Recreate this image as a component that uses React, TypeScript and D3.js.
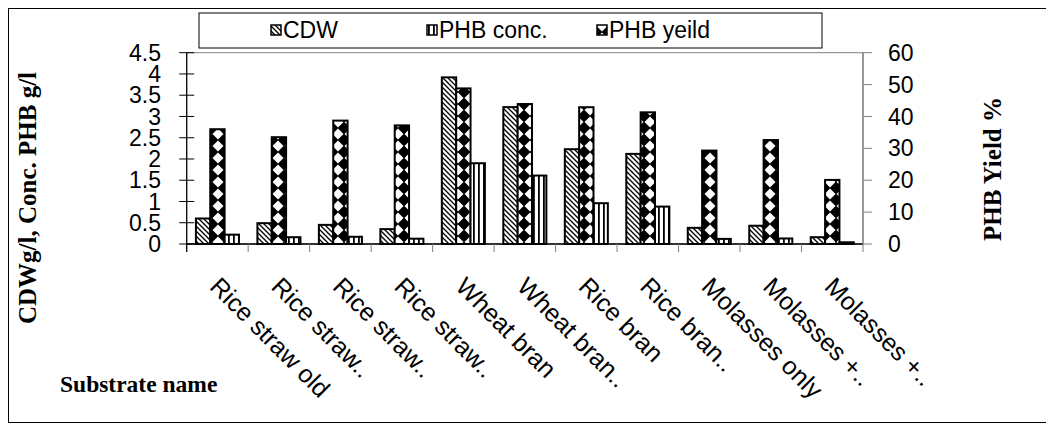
import React from "react";
import * as d3 from "d3";

const categories = [
  "Rice straw old",
  "Rice straw..",
  "Rice straw..",
  "Rice straw..",
  "Wheat bran",
  "Wheat bran..",
  "Rice bran",
  "Rice bran..",
  "Molasses only",
  "Molasses +..",
  "Molasses +..",
];
const cdw = [0.6, 0.49, 0.45, 0.35, 3.92, 3.22, 2.23, 2.12, 0.38, 0.43, 0.16];
const phbConc = [0.22, 0.16, 0.17, 0.125, 1.9, 1.61, 0.96, 0.88, 0.12, 0.13, 0.04];
const phbYield = [36.0, 33.5, 38.7, 37.2, 48.8, 43.9, 42.9, 41.3, 29.3, 32.6, 20.1];
const leftTicks = [0, 0.5, 1, 1.5, 2, 2.5, 3, 3.5, 4, 4.5];
const rightTicks = [0, 10, 20, 30, 40, 50, 60];
const legendItems = [
  { key: "cdw", label: "CDW", pat: "url(#cdwPat)" },
  { key: "conc", label: "PHB conc.", pat: "url(#concPat)" },
  { key: "yield", label: "PHB yeild", pat: "url(#yieldPat)" },
];

const W = 1046;
const H = 415;
const plot = { left: 178.7, right: 855, top: 44.7, bottom: 236 };
const SANS = "'Liberation Sans', Arial, sans-serif";
const SERIF = "'Liberation Serif', 'Times New Roman', serif";

export default function App() {
  const idx = categories.map((_, i) => i);
  const x = d3.scaleBand<number>().domain(idx).range([plot.left, plot.right]).padding(0);
  const bw = x.bandwidth();
  const sub = d3
    .scaleBand<string>()
    .domain(["cdw", "yield", "conc"])
    .range([bw * 0.15, bw * 0.85])
    .padding(0);
  const yL = d3.scaleLinear().domain([0, 4.5]).range([plot.bottom, plot.top]);
  const yR = d3.scaleLinear().domain([0, 60]).range([plot.bottom, plot.top]);

  const bars: { key: string; x: number; y: number; h: number; fill: string }[] = [];
  idx.forEach((i) => {
    const x0 = x(i)!;
    bars.push({ key: `c${i}`, x: x0 + sub("cdw")!, y: yL(cdw[i]), h: yL(0) - yL(cdw[i]), fill: "url(#cdwPat)" });
    bars.push({ key: `y${i}`, x: x0 + sub("yield")!, y: yR(phbYield[i]), h: yR(0) - yR(phbYield[i]), fill: "url(#yieldPat)" });
    bars.push({ key: `p${i}`, x: x0 + sub("conc")!, y: yL(phbConc[i]), h: yL(0) - yL(phbConc[i]), fill: "url(#concPat)" });
  });

  const boundaries = d3.range(categories.length + 1).map((k) => plot.left + k * bw);

  const legendX = [263, 419, 589];

  return (
    <svg width={W} height={H} style={{ display: "block" }}>
      <defs>
        <pattern id="cdwPat" patternUnits="userSpaceOnUse" width="5" height="5">
          <rect width="5" height="5" fill="#fff" />
          <path d="M-1,-1 L6,6 M-1,4 L1,6 M4,-1 L6,1" stroke="#000" strokeWidth="1.3" />
        </pattern>
        <pattern id="concPat" patternUnits="userSpaceOnUse" width="5" height="5">
          <rect width="5" height="5" fill="#fff" />
          <rect x="0" width="1.8" height="5" fill="#000" />
        </pattern>
        <pattern id="yieldPat" patternUnits="userSpaceOnUse" width="12" height="12">
          <rect width="12" height="12" fill="#000" />
          <polygon points="6,0.5 11.5,6 6,11.5 0.5,6" fill="#fff" />
        </pattern>
      </defs>
      <rect x={0.5} y={0.5} width={W - 1} height={H - 1} fill="#fff" stroke="#000" strokeWidth={1} />

      {/* plot area border */}
      <rect
        x={plot.left}
        y={plot.top}
        width={plot.right - plot.left}
        height={plot.bottom - plot.top}
        fill="none"
        stroke="#808080"
        strokeWidth={1}
      />

      {/* bars */}
      {bars.map((b) => (
        <rect key={b.key} x={b.x} y={b.y} width={sub.bandwidth()} height={b.h} fill={b.fill} stroke="#000" strokeWidth={2} />
      ))}

      {/* x axis */}
      <line x1={plot.left} x2={plot.right} y1={plot.bottom} y2={plot.bottom} stroke="#000" strokeWidth={1.5} />
      {boundaries.map((bx, k) => (
        <line key={k} x1={bx} x2={bx} y1={plot.bottom} y2={plot.bottom + 8} stroke="#808080" strokeWidth={1} />
      ))}

      {/* left axis */}
      <line x1={plot.left} x2={plot.left} y1={plot.top} y2={plot.bottom + 8} stroke="#000" strokeWidth={1.2} />
      {leftTicks.map((t) => (
        <g key={t}>
          <line x1={plot.left - 7.5} x2={plot.left + 7.5} y1={yL(t)} y2={yL(t)} stroke="#000" strokeWidth={1} />
          <text x={153} y={yL(t)} dy="0.35em" textAnchor="end" fontFamily={SANS} fontSize={23}>
            {d3.format("")(t)}
          </text>
        </g>
      ))}

      {/* right axis */}
      <line x1={plot.right} x2={plot.right} y1={plot.top} y2={plot.bottom} stroke="#808080" strokeWidth={1.2} />
      {rightTicks.map((t) => (
        <g key={t}>
          <line x1={plot.right} x2={plot.right + 9} y1={yR(t)} y2={yR(t)} stroke="#808080" strokeWidth={1} />
          <text x={880} y={yR(t)} dy="0.35em" textAnchor="start" fontFamily={SANS} fontSize={23}>
            {t}
          </text>
        </g>
      ))}

      {/* category labels */}
      {categories.map((c, i) => {
        const cx = x(i)! + bw / 2 - 9;
        const cy = 280;
        return (
          <text
            key={i}
            transform={`translate(${cx},${cy}) rotate(45)`}
            fontFamily={SANS}
            fontSize={25}
            textAnchor="start"
          >
            {c}
          </text>
        );
      })}

      {/* axis titles */}
      <text
        transform={`translate(28,${190}) rotate(-90)`}
        textAnchor="middle"
        fontFamily={SERIF}
        fontWeight="bold"
        fontSize={25}
      >
        CDWg/l, Conc. PHB g/l
      </text>
      <text
        transform={`translate(993,${161}) rotate(-90)`}
        textAnchor="middle"
        fontFamily={SERIF}
        fontWeight="bold"
        fontSize={25}
      >
        PHB Yield %
      </text>
      <text x={52} y={384} fontFamily={SERIF} fontWeight="bold" fontSize={23.5}>
        Substrate name
      </text>

      {/* legend */}
      <rect x={191} y={5} width={623} height={35} fill="#fff" stroke="#000" strokeWidth={1} />
      {legendItems.map((it, k) => (
        <g key={it.key}>
          <rect x={legendX[k]} y={17} width={10} height={10} fill={it.pat} stroke="#000" strokeWidth={1.5} />
          <text x={legendX[k] + 12} y={22} dy="0.35em" fontFamily={SANS} fontSize={23}>
            {it.label}
          </text>
        </g>
      ))}
    </svg>
  );
}
